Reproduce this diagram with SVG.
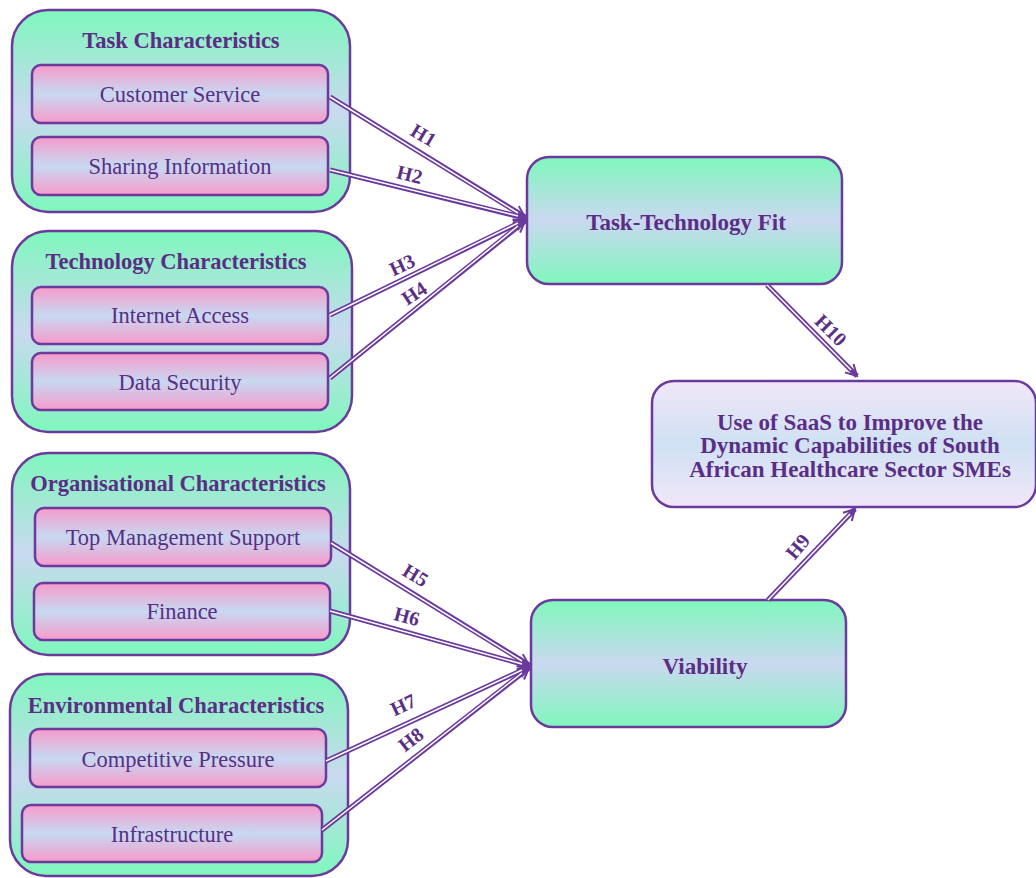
<svg xmlns="http://www.w3.org/2000/svg" width="1036" height="878" viewBox="0 0 1036 878">
<defs>
<linearGradient id="gOuter" x1="0" y1="0" x2="0" y2="1">
<stop offset="0" stop-color="#7ff7bd"/><stop offset="0.5" stop-color="#c9d9ef"/><stop offset="1" stop-color="#7ff7bd"/>
</linearGradient>
<linearGradient id="gInner" x1="0" y1="0" x2="0" y2="1">
<stop offset="0" stop-color="#f79acb"/><stop offset="0.5" stop-color="#c7d9f1"/><stop offset="1" stop-color="#f79acb"/>
</linearGradient>
<linearGradient id="gMid" x1="0" y1="0" x2="0" y2="1">
<stop offset="0" stop-color="#7ff7bd"/><stop offset="0.5" stop-color="#cad8f0"/><stop offset="1" stop-color="#7ff7bd"/>
</linearGradient>
<linearGradient id="gOut" x1="0" y1="0" x2="0" y2="1">
<stop offset="0" stop-color="#f1e7f8"/><stop offset="0.5" stop-color="#cfe1f3"/><stop offset="1" stop-color="#f1e7f8"/>
</linearGradient>
<marker id="arr" markerUnits="userSpaceOnUse" markerWidth="14" markerHeight="14" viewBox="0 0 14 14" refX="12" refY="7" orient="auto">
<path d="M1,1 L12,7 L1,13" fill="none" stroke="#6b3a9c" stroke-width="2"/>
</marker>
<style>
.outer{fill:url(#gOuter);stroke:#6b3a9c;stroke-width:2.5}
.inner{fill:url(#gInner);stroke:#6b3a9c;stroke-width:2.5}
.mid{fill:url(#gMid);stroke:#6b3a9c;stroke-width:2.5}
.out{fill:url(#gOut);stroke:#6b3a9c;stroke-width:2.5}
.title{font-family:"Liberation Serif",serif;font-weight:bold;font-size:22.5px;fill:#5a2e84;text-anchor:middle}
.item{font-family:"Liberation Serif",serif;font-size:22.5px;fill:#5a2e84;text-anchor:middle}
.big{font-family:"Liberation Serif",serif;font-weight:bold;font-size:23px;fill:#5a2e84;text-anchor:middle}
.lbl{font-family:"Liberation Serif",serif;font-weight:bold;font-size:20px;fill:#5a2e84;text-anchor:middle}
.lo{fill:none;stroke:#6b3a9c;stroke-width:5}
.li{fill:none;stroke:#ffffff;stroke-width:1.5}
</style>
</defs>
<rect width="1036" height="878" fill="#ffffff"/>

<g id="task">
<rect class="outer" x="12" y="10" width="338" height="202" rx="36"/>
<text class="title" x="181" y="48">Task Characteristics</text>
<g id="customer-service"><rect class="inner" x="32" y="65" width="296" height="58" rx="9"/><text class="item" x="180" y="102">Customer Service</text></g>
<g id="sharing-information"><rect class="inner" x="32" y="137" width="296" height="58" rx="9"/><text class="item" x="180" y="174">Sharing Information</text></g>
</g>

<g id="technology">
<rect class="outer" x="12" y="231" width="340" height="201" rx="36"/>
<text class="title" x="176" y="269">Technology Characteristics</text>
<g id="internet-access"><rect class="inner" x="32" y="287" width="296" height="57" rx="9"/><text class="item" x="180" y="323">Internet Access</text></g>
<g id="data-security"><rect class="inner" x="32" y="353" width="296" height="57" rx="9"/><text class="item" x="180" y="390">Data Security</text></g>
</g>

<g id="organisational">
<rect class="outer" x="12" y="453" width="338" height="202" rx="36"/>
<text class="title" x="178" y="491">Organisational Characteristics</text>
<g id="top-management-support"><rect class="inner" x="35" y="508" width="296" height="58" rx="9"/><text class="item" x="183" y="545">Top Management Support</text></g>
<g id="finance"><rect class="inner" x="34" y="583" width="296" height="57" rx="9"/><text class="item" x="182" y="619">Finance</text></g>
</g>

<g id="environmental">
<rect class="outer" x="10" y="674" width="338" height="202" rx="36"/>
<text class="title" x="176" y="713">Environmental Characteristics</text>
<g id="competitive-pressure"><rect class="inner" x="30" y="729" width="296" height="58" rx="9"/><text class="item" x="178" y="767">Competitive Pressure</text></g>
<g id="infrastructure"><rect class="inner" x="22" y="805" width="300" height="57" rx="9"/><text class="item" x="172" y="842">Infrastructure</text></g>
</g>

<g id="ttf">
<rect class="mid" x="527" y="157" width="315" height="127" rx="22"/>
<text class="big" x="686" y="230">Task-Technology Fit</text>
</g>

<g id="outcome">
<rect class="out" x="652" y="381" width="384" height="126" rx="22"/>
<text class="big" x="850" y="430">Use of SaaS to Improve the</text>
<text class="big" x="850" y="453">Dynamic Capabilities of South</text>
<text class="big" x="850" y="477">African Healthcare Sector SMEs</text>
</g>

<g id="viability">
<rect class="mid" x="531" y="600" width="315" height="127" rx="22"/>
<text class="big" x="705" y="674">Viability</text>
</g>

<g id="connectors">
<path class="lo" d="M330,97 L525,217" marker-end="url(#arr)"/>
<path class="lo" d="M330,170 L525,218" marker-end="url(#arr)"/>
<path class="lo" d="M330,315 L525,220" marker-end="url(#arr)"/>
<path class="lo" d="M330,378 L525,221" marker-end="url(#arr)"/>
<path class="lo" d="M767,285 L857,376" marker-end="url(#arr)"/>
<path class="lo" d="M331,543 L529,665" marker-end="url(#arr)"/>
<path class="lo" d="M330,611 L529,666" marker-end="url(#arr)"/>
<path class="lo" d="M326,761 L529,667" marker-end="url(#arr)"/>
<path class="lo" d="M322,830 L529,668" marker-end="url(#arr)"/>
<path class="lo" d="M768,600 L855,509" marker-end="url(#arr)"/>
<path class="li" d="M330,97 L518,213"/>
<path class="li" d="M330,170 L518,216"/>
<path class="li" d="M330,315 L518,223"/>
<path class="li" d="M330,378 L518,226"/>
<path class="li" d="M767,285 L851,370"/>
<path class="li" d="M331,543 L522,661"/>
<path class="li" d="M330,611 L522,664"/>
<path class="li" d="M326,761 L522,670"/>
<path class="li" d="M322,830 L522,673"/>
<path class="li" d="M768,600 L850,514"/>
<text class="lbl" transform="translate(420,141) rotate(31)">H1</text>
<text class="lbl" transform="translate(408,181) rotate(14)">H2</text>
<text class="lbl" transform="translate(405,271) rotate(-25)">H3</text>
<text class="lbl" transform="translate(418,299) rotate(-33)">H4</text>
<text class="lbl" transform="translate(412,581) rotate(31)">H5</text>
<text class="lbl" transform="translate(405,623) rotate(15)">H6</text>
<text class="lbl" transform="translate(406,711) rotate(-25)">H7</text>
<text class="lbl" transform="translate(415,745) rotate(-38)">H8</text>
<text class="lbl" transform="translate(803,551) rotate(-50)">H9</text>
<text class="lbl" transform="translate(826,335) rotate(45)">H10</text>
</g>
</svg>
